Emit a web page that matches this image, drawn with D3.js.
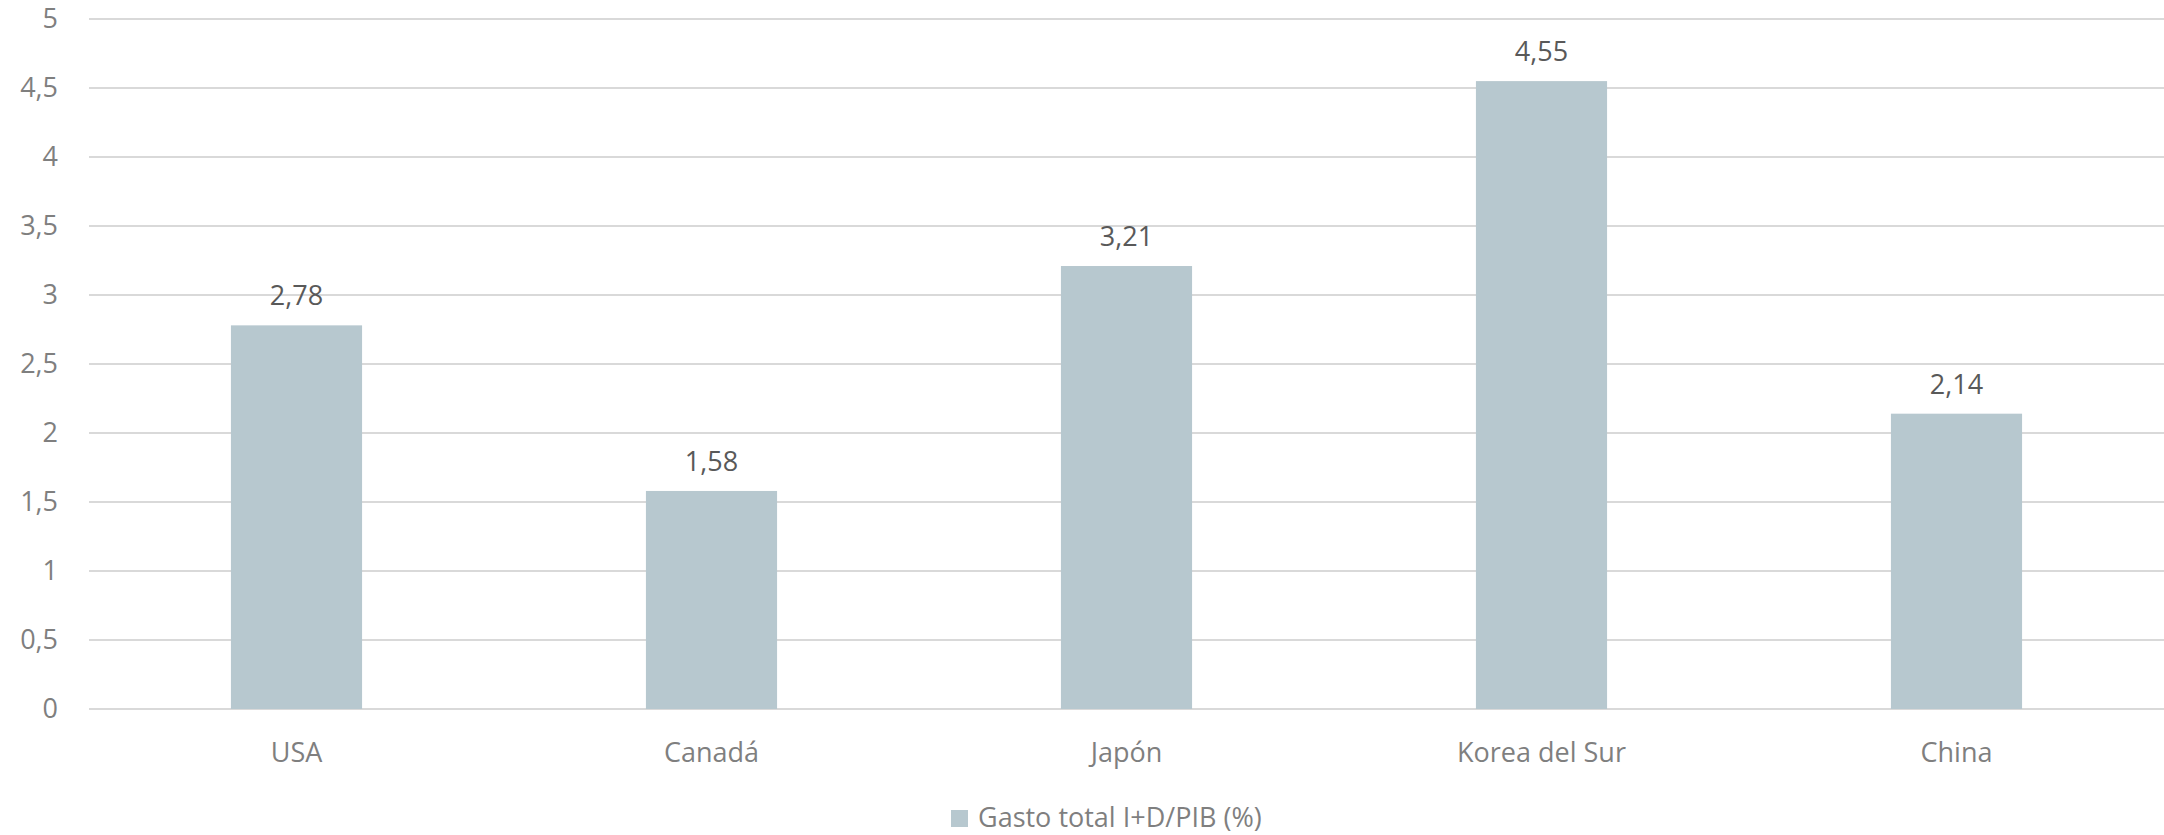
<!doctype html>
<html>
<head>
  <meta charset="utf-8">
  <script src="https://d3js.org/d3.v7.min.js"></script>
  <style>
    body { margin: 0; background: #fff; }
    text { font-family: 'Open Sans', sans-serif; }
  </style>
</head>
<body>
  <svg id="chart" width="2164" height="835"></svg>
  <script>
    // data
    var countries = ["USA", "Canadá", "Japón", "Korea del Sur", "China"];
    var gasto = [2.78, 1.58, 3.21, 4.55, 2.14];
    var yTicks = [0, 0.5, 1, 1.5, 2, 2.5, 3, 3.5, 4, 4.5, 5];
    var seriesName = "Gasto total I+D/PIB (%)";

    var svg = d3.select("#chart");
    var plotLeft = 89, plotRight = 2164, plotTop = 19, plotBottom = 709;
    var barColor = "#b7c8cf";
    var fmt = function (v) { return String(v).replace(".", ","); };

    var x = d3.scaleBand().domain(countries).range([plotLeft, plotRight]).padding(0);
    var y = d3.scaleLinear().domain([0, 5]).range([plotBottom, plotTop]);
    var barW = x.bandwidth() * 0.316;

    // gridlines
    svg.append("g")
      .selectAll("line")
      .data(yTicks)
      .enter()
      .append("line")
      .attr("x1", plotLeft)
      .attr("x2", plotRight)
      .attr("y1", d => y(d))
      .attr("y2", d => y(d))
      .style("stroke", "#d9d9d9")
      .style("stroke-width", 2)

    // y tick labels
    svg.append("g")
      .selectAll("text")
      .data(yTicks)
      .enter()
      .append("text")
      .attr("x", 58)
      .attr("y", d => y(d))
      .attr("dy", "0.35em")
      .attr("text-anchor", "end")
      .style("font-size", "27px")
      .style("fill", "#7f7f7f")
      .text(d => fmt(d))

    var data = countries.map((c, i) => ({ name: c, value: gasto[i] }));

    // bars
    svg.append("g")
      .selectAll("rect")
      .data(data)
      .enter()
      .append("rect")
      .attr("x", d => x(d.name) + x.bandwidth() / 2 - barW / 2)
      .attr("y", d => y(d.value))
      .attr("width", barW)
      .attr("height", d => plotBottom - y(d.value))
      .style("fill", barColor)

    // value labels
    svg.append("g")
      .selectAll("text")
      .data(data)
      .enter()
      .append("text")
      .attr("x", d => x(d.name) + x.bandwidth() / 2)
      .attr("y", d => y(d.value) - 20)
      .attr("text-anchor", "middle")
      .style("font-size", "27px")
      .style("fill", "#595959")
      .text(d => fmt(d.value))

    // category labels
    svg.append("g")
      .selectAll("text")
      .data(countries)
      .enter()
      .append("text")
      .attr("x", d => x(d) + x.bandwidth() / 2)
      .attr("y", 762)
      .attr("text-anchor", "middle")
      .style("font-size", "27px")
      .style("fill", "#7f7f7f")
      .text(d => d)

    // legend
    var legend = svg.append("g");
    legend.append("rect")
      .attr("x", 951)
      .attr("y", 810)
      .attr("width", 17)
      .attr("height", 17)
      .style("fill", barColor)
    legend.append("text")
      .attr("x", 978)
      .attr("y", 827)
      .style("font-size", "27px")
      .style("fill", "#7f7f7f")
      .text(seriesName)
  </script>
</body>
</html>
